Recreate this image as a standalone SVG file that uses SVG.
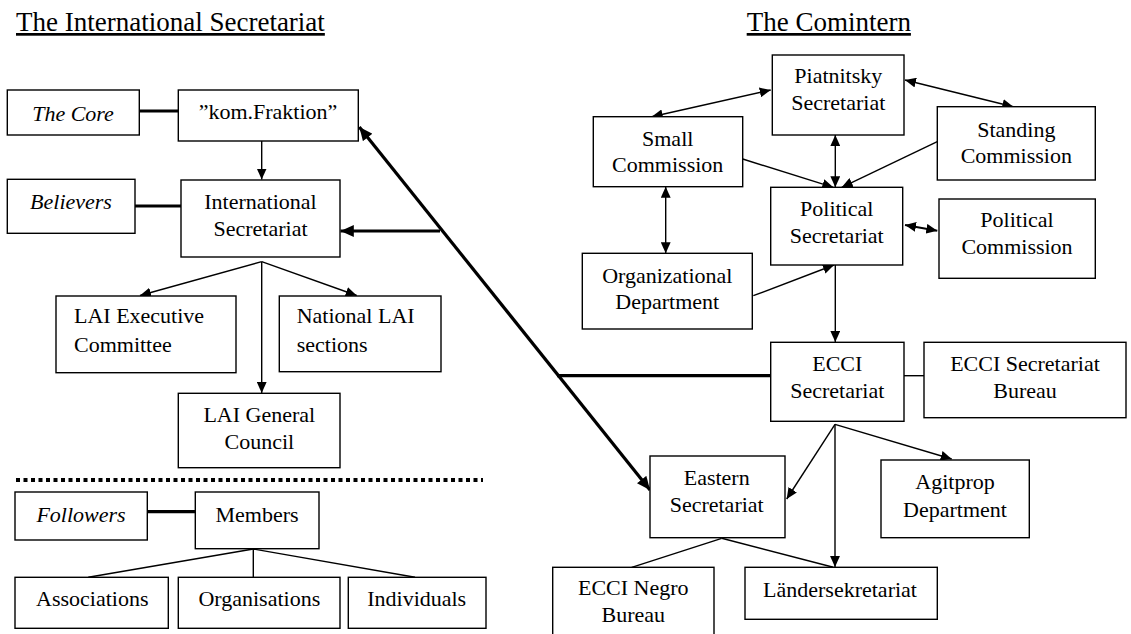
<svg xmlns="http://www.w3.org/2000/svg" width="1131" height="634" viewBox="0 0 1131 634">
<style>
  .bg{fill:#fff}
  .box{fill:#fff;stroke:#000;stroke-width:1.4}
  .t{font-size:22px;fill:#000;text-anchor:middle}
  .l{text-anchor:start}
  .i{font-style:italic}
  .title{font-size:27px;fill:#000;text-decoration:underline}
  .c{fill:none;stroke:#000;stroke-width:1.4}
  .k{fill:none;stroke:#000;stroke-width:3.2}
  .a{marker-end:url(#ah)}
  .d{marker-start:url(#ah);marker-end:url(#ah)}
  .ka{marker-end:url(#ahk)}
  .kd{marker-start:url(#ahk);marker-end:url(#ahk)}
  .dot{fill:none;stroke:#000;stroke-width:4;stroke-dasharray:4 3.5}
</style>
<defs>
  <marker id="ah" viewBox="0 0 10 9" refX="10" refY="4.5" markerWidth="11" markerHeight="10" markerUnits="userSpaceOnUse" orient="auto-start-reverse">
    <path d="M0,0 L10,4.5 L0,9 z" fill="#000"/>
  </marker>
  <marker id="ahk" viewBox="0 0 10 9" refX="10" refY="4.5" markerWidth="14" markerHeight="12" markerUnits="userSpaceOnUse" orient="auto-start-reverse">
    <path d="M0,0 L10,4.5 L0,9 z" fill="#000"/>
  </marker>
</defs>
<rect class="bg" x="0" y="0" width="1131" height="634"/>

<g font-family="'Liberation Serif', 'Times New Roman', 'DejaVu Serif', serif">
<text class="title" x="16" y="31">The International Secretariat</text>
<text class="title" x="746.7" y="31">The Comintern</text>
</g>

<g id="connectors">
  <path class="c a" d="M261.7,141 L261.7,179.5"/>
  <path class="c a" d="M261.7,261.7 L140,295.5"/>
  <path class="c a" d="M261.7,261.7 L356.7,295.5"/>
  <path class="c a" d="M261.7,261.7 L261.7,393"/>
  <path class="k ka" d="M440,231 L340.5,231"/>
  <path class="k kd" d="M359.3,127 L650,490"/>
  <path class="k" d="M557,375.7 L770.7,375.7"/>
  <path class="k" d="M139.3,111 L178.3,111"/>
  <path class="k" d="M135,206 L181,206"/>
  <path class="k" d="M147.3,511.7 L195.3,511.7"/>
  <path class="dot" d="M16,480 L483,480"/>
  <path class="c" d="M253.3,549 L88.3,577.3"/>
  <path class="c" d="M253.3,549 L253.3,577.3"/>
  <path class="c" d="M253.3,549 L415,577.3"/>
  <path class="c d" d="M651.7,116.7 L770.7,90"/>
  <path class="c d" d="M905,80 L1013.3,106.7"/>
  <path class="c d" d="M835.3,135 L835.3,187.3"/>
  <path class="c a" d="M742.7,159 L833.3,187.3"/>
  <path class="c a" d="M937.3,141.7 L841.7,187.3"/>
  <path class="c d" d="M665.7,186.7 L665.7,253.3"/>
  <path class="c d" style="stroke-width:2" d="M905,225 L937.3,230.7"/>
  <path class="c a" d="M753.3,295.7 L834,265"/>
  <path class="c a" d="M835.3,265 L835.3,342"/>
  <path class="c" d="M904,375.7 L924,375.7"/>
  <path class="c a" d="M835,424.3 L786.7,499"/>
  <path class="c a" d="M835,424.3 L835,567"/>
  <path class="c a" d="M835,424.3 L951.7,459"/>
  <path class="c" d="M721.7,538.3 L631.7,567.3"/>
  <path class="c" d="M721.7,538.3 L833.3,567.3"/>
</g>

<g font-family="'Liberation Serif', 'Times New Roman', 'DejaVu Serif', serif">
<g id="core">
  <rect class="box" x="7.3" y="90" width="132" height="45"/>
  <text class="t i" x="73" y="120.7">The Core</text>
</g>
<g id="komfraktion">
  <rect class="box" x="178.3" y="90" width="180" height="51"/>
  <text class="t" x="268" y="119.3">”kom.Fraktion”</text>
</g>
<g id="believers">
  <rect class="box" x="7.3" y="179.3" width="127.7" height="54"/>
  <text class="t i" x="71" y="209.3">Believers</text>
</g>
<g id="intsec">
  <rect class="box" x="181" y="180" width="159" height="77"/>
  <text class="t" x="260.5" y="208.5">International<tspan x="260.5" dy="27">Secretariat</tspan></text>
</g>
<g id="laiexec">
  <rect class="box" x="56" y="296" width="180" height="76.7"/>
  <text class="t l" x="74" y="323.3">LAI Executive<tspan x="74" dy="29">Committee</tspan></text>
</g>
<g id="national">
  <rect class="box" x="279.3" y="296" width="161.7" height="75.7"/>
  <text class="t l" x="296.7" y="323.3">National LAI<tspan x="296.7" dy="29">sections</tspan></text>
</g>
<g id="general">
  <rect class="box" x="178.3" y="393.3" width="161.7" height="74.4"/>
  <text class="t" x="259.3" y="421.7">LAI General<tspan x="259.3" dy="27.6">Council</tspan></text>
</g>
<g id="followers">
  <rect class="box" x="15" y="492" width="132.3" height="48"/>
  <text class="t i" x="81" y="521.7">Followers</text>
</g>
<g id="members">
  <rect class="box" x="195.3" y="492" width="123.7" height="56.7"/>
  <text class="t" x="257" y="522.3">Members</text>
</g>
<g id="associations">
  <rect class="box" x="15" y="577.3" width="153.3" height="51"/>
  <text class="t" x="92.3" y="606">Associations</text>
</g>
<g id="organisations">
  <rect class="box" x="178.3" y="577.3" width="161.7" height="51"/>
  <text class="t" x="259.3" y="606">Organisations</text>
</g>
<g id="individuals">
  <rect class="box" x="348.3" y="577.3" width="137.7" height="51"/>
  <text class="t" x="416.7" y="606">Individuals</text>
</g>

<g id="piatnitsky">
  <rect class="box" x="772.3" y="55" width="131.7" height="80"/>
  <text class="t" x="838.3" y="83.3">Piatnitsky<tspan x="838.3" dy="26.7">Secretariat</tspan></text>
</g>
<g id="small">
  <rect class="box" x="593.3" y="116.7" width="149.4" height="70"/>
  <text class="t" x="667.7" y="145.7">Small<tspan x="667.7" dy="26">Commission</tspan></text>
</g>
<g id="standing">
  <rect class="box" x="937.3" y="106.7" width="158" height="73.3"/>
  <text class="t" x="1016.3" y="136.7">Standing<tspan x="1016.3" dy="26.6">Commission</tspan></text>
</g>
<g id="polsec">
  <rect class="box" x="770.7" y="187.3" width="132" height="77.7"/>
  <text class="t" x="836.7" y="216">Political<tspan x="836.7" dy="27.3">Secretariat</tspan></text>
</g>
<g id="polcomm">
  <rect class="box" x="939" y="199" width="156.3" height="79.3"/>
  <text class="t" x="1017" y="227.3">Political<tspan x="1017" dy="26.7">Commission</tspan></text>
</g>
<g id="orgdept">
  <rect class="box" x="582.3" y="253.3" width="170" height="75.7"/>
  <text class="t" x="667.3" y="282.7">Organizational<tspan x="667.3" dy="26.6">Department</tspan></text>
</g>
<g id="eccisec">
  <rect class="box" x="770.7" y="342.3" width="133.3" height="79"/>
  <text class="t" x="837.3" y="370.7">ECCI<tspan x="837.3" dy="27">Secretariat</tspan></text>
</g>
<g id="eccibureau">
  <rect class="box" x="924" y="342.3" width="202" height="75.4"/>
  <text class="t" x="1025" y="370.7">ECCI Secretariat<tspan x="1025" dy="27">Bureau</tspan></text>
</g>
<g id="eastern">
  <rect class="box" x="650" y="456" width="135" height="81.7"/>
  <text class="t" x="716.7" y="485">Eastern<tspan x="716.7" dy="27.3">Secretariat</tspan></text>
</g>
<g id="agitprop">
  <rect class="box" x="881" y="460" width="148.3" height="77.7"/>
  <text class="t" x="955" y="489.3">Agitprop<tspan x="955" dy="27.4">Department</tspan></text>
</g>
<g id="negro">
  <rect class="box" x="552.7" y="567.3" width="161.3" height="75"/>
  <text class="t" x="633.3" y="595">ECCI Negro<tspan x="633.3" dy="26.7">Bureau</tspan></text>
</g>
<g id="laender">
  <rect class="box" x="745" y="567.3" width="192.3" height="52"/>
  <text class="t" x="840" y="597.3">Ländersekretariat</text>
</g>
</g>
</svg>
